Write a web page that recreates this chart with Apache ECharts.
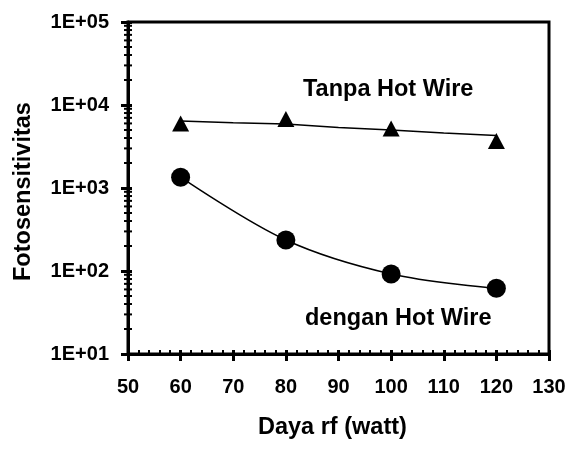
<!DOCTYPE html>
<html>
<head>
<meta charset="utf-8">
<script src="https://cdn.jsdelivr.net/npm/echarts@6/dist/echarts.min.js"></script>
<style>html,body{margin:0;padding:0;background:#fff}#c{width:586px;height:467px}</style>
</head>
<body>
<div id="c"></div>
<script>
var power = [60, 80, 100, 120];
var tanpaHotWire = [5980, 6760, 5210, 3680];
var tanpaTrendX = [60, 70, 80, 90, 100, 110, 120];
var tanpaTrend = [6400, 6100, 5900, 5350, 5000, 4600, 4300];
var denganHotWire = [1350, 236, 92, 62];
var yMinorTicks = [20,30,40,50,60,70,80,90,200,300,400,500,600,700,800,900,2000,3000,4000,5000,6000,7000,8000,9000,20000,30000,40000,50000,60000,70000,80000,90000];
var labelTanpa = 'Tanpa Hot Wire';
var labelDengan = 'dengan Hot Wire';
var xTitle = 'Daya rf (watt)';
var yTitle = 'Fotosensitivitas';

var FONT = 'Liberation Sans, Arial, sans-serif';
var chart = echarts.init(document.getElementById('c'), null, {renderer: 'canvas'});

function zip(a, b) { return a.map(function (v, i) { return [v, b[i]]; }); }

var option = {
  animation: false,
  backgroundColor: '#fff',
  grid: {left: 128, right: 37, top: 22, bottom: 113, show: true, borderColor: '#000', borderWidth: 3, backgroundColor: 'transparent'},
  xAxis: [{
    type: 'value', min: 50, max: 130, interval: 10, position: 'bottom',
    axisLine: {show: true, lineStyle: {color: '#000', width: 3}},
    axisTick: {show: true, inside: false, length: 7, lineStyle: {color: '#000', width: 3}},
    minorTick: {show: false},
    splitLine: {show: false},
    axisLabel: {color: '#000', fontFamily: FONT, fontWeight: 'bold', fontSize: 20, margin: 23}
  }, {
    type: 'value', min: 50, max: 130, interval: 10, position: 'bottom',
    axisLine: {show: false},
    axisTick: {show: true, inside: true, length: 4, lineStyle: {color: '#000', width: 3}},
    minorTick: {show: true, splitNumber: 5, length: 4, lineStyle: {color: '#000', width: 2}},
    splitLine: {show: false},
    axisLabel: {show: false}
  }],
  yAxis: [{
    type: 'log', logBase: 10, min: 10, max: 100000, position: 'left',
    axisLine: {show: true, lineStyle: {color: '#000', width: 3}},
    axisTick: {show: true, inside: false, length: 7, lineStyle: {color: '#000', width: 3}},
    splitLine: {show: false},
    axisLabel: {color: '#000', fontFamily: FONT, fontWeight: 'bold', fontSize: 20, margin: 19,
      formatter: function (v) { return '1E+' + String(Math.round(Math.log10(v))).padStart(2, '0'); }}
  }, {
    type: 'log', logBase: 10, min: 10, max: 100000, position: 'left',
    axisLine: {show: false},
    axisTick: {show: true, inside: true, length: 4, lineStyle: {color: '#000', width: 3}},
    splitLine: {show: false},
    axisLabel: {show: false}
  }],
  series: [{
    type: 'custom', xAxisIndex: 0, yAxisIndex: 0, clip: false, silent: true,
    data: yMinorTicks.map(function (v) { return [50, v]; }),
    renderItem: function (params, api) {
      var p = api.coord([api.value(0), api.value(1)]);
      return {type: 'line', shape: {x1: p[0] - 4, y1: p[1], x2: p[0] + 4, y2: p[1]}, style: {stroke: '#000', lineWidth: 2}};
    }
  }, {
    type: 'line', xAxisIndex: 0, yAxisIndex: 0,
    data: zip(tanpaTrendX, tanpaTrend), showSymbol: false, symbol: 'none',
    lineStyle: {color: '#000', width: 1.5}, z: 2
  }, {
    type: 'scatter', xAxisIndex: 0, yAxisIndex: 0,
    data: zip(power, tanpaHotWire), symbol: 'triangle', symbolSize: [17, 16],
    itemStyle: {color: '#000', opacity: 1}, z: 3
  }, {
    type: 'line', xAxisIndex: 0, yAxisIndex: 0,
    data: zip(power, denganHotWire), smooth: 0.35, symbol: 'circle', symbolSize: 19,
    lineStyle: {color: '#000', width: 1.5}, itemStyle: {color: '#000', opacity: 1}, z: 3
  }],
  graphic: [{
    type: 'text', left: 303, top: 78,
    style: {text: labelTanpa, fill: '#000', font: 'bold 23.5px ' + FONT}
  }, {
    type: 'text', left: 305, top: 307,
    style: {text: labelDengan, fill: '#000', font: 'bold 23.5px ' + FONT}
  }, {
    type: 'text', left: 258, top: 416,
    style: {text: xTitle, fill: '#000', font: 'bold 23.5px ' + FONT}
  }, {
    type: 'text', x: 12, y: 281, rotation: Math.PI / 2, originX: 0, originY: 0,
    style: {text: yTitle, fill: '#000', font: 'bold 23.5px ' + FONT, textAlign: 'left', textVerticalAlign: 'top'}
  }]
};
chart.setOption(option);
</script>
</body>
</html>
